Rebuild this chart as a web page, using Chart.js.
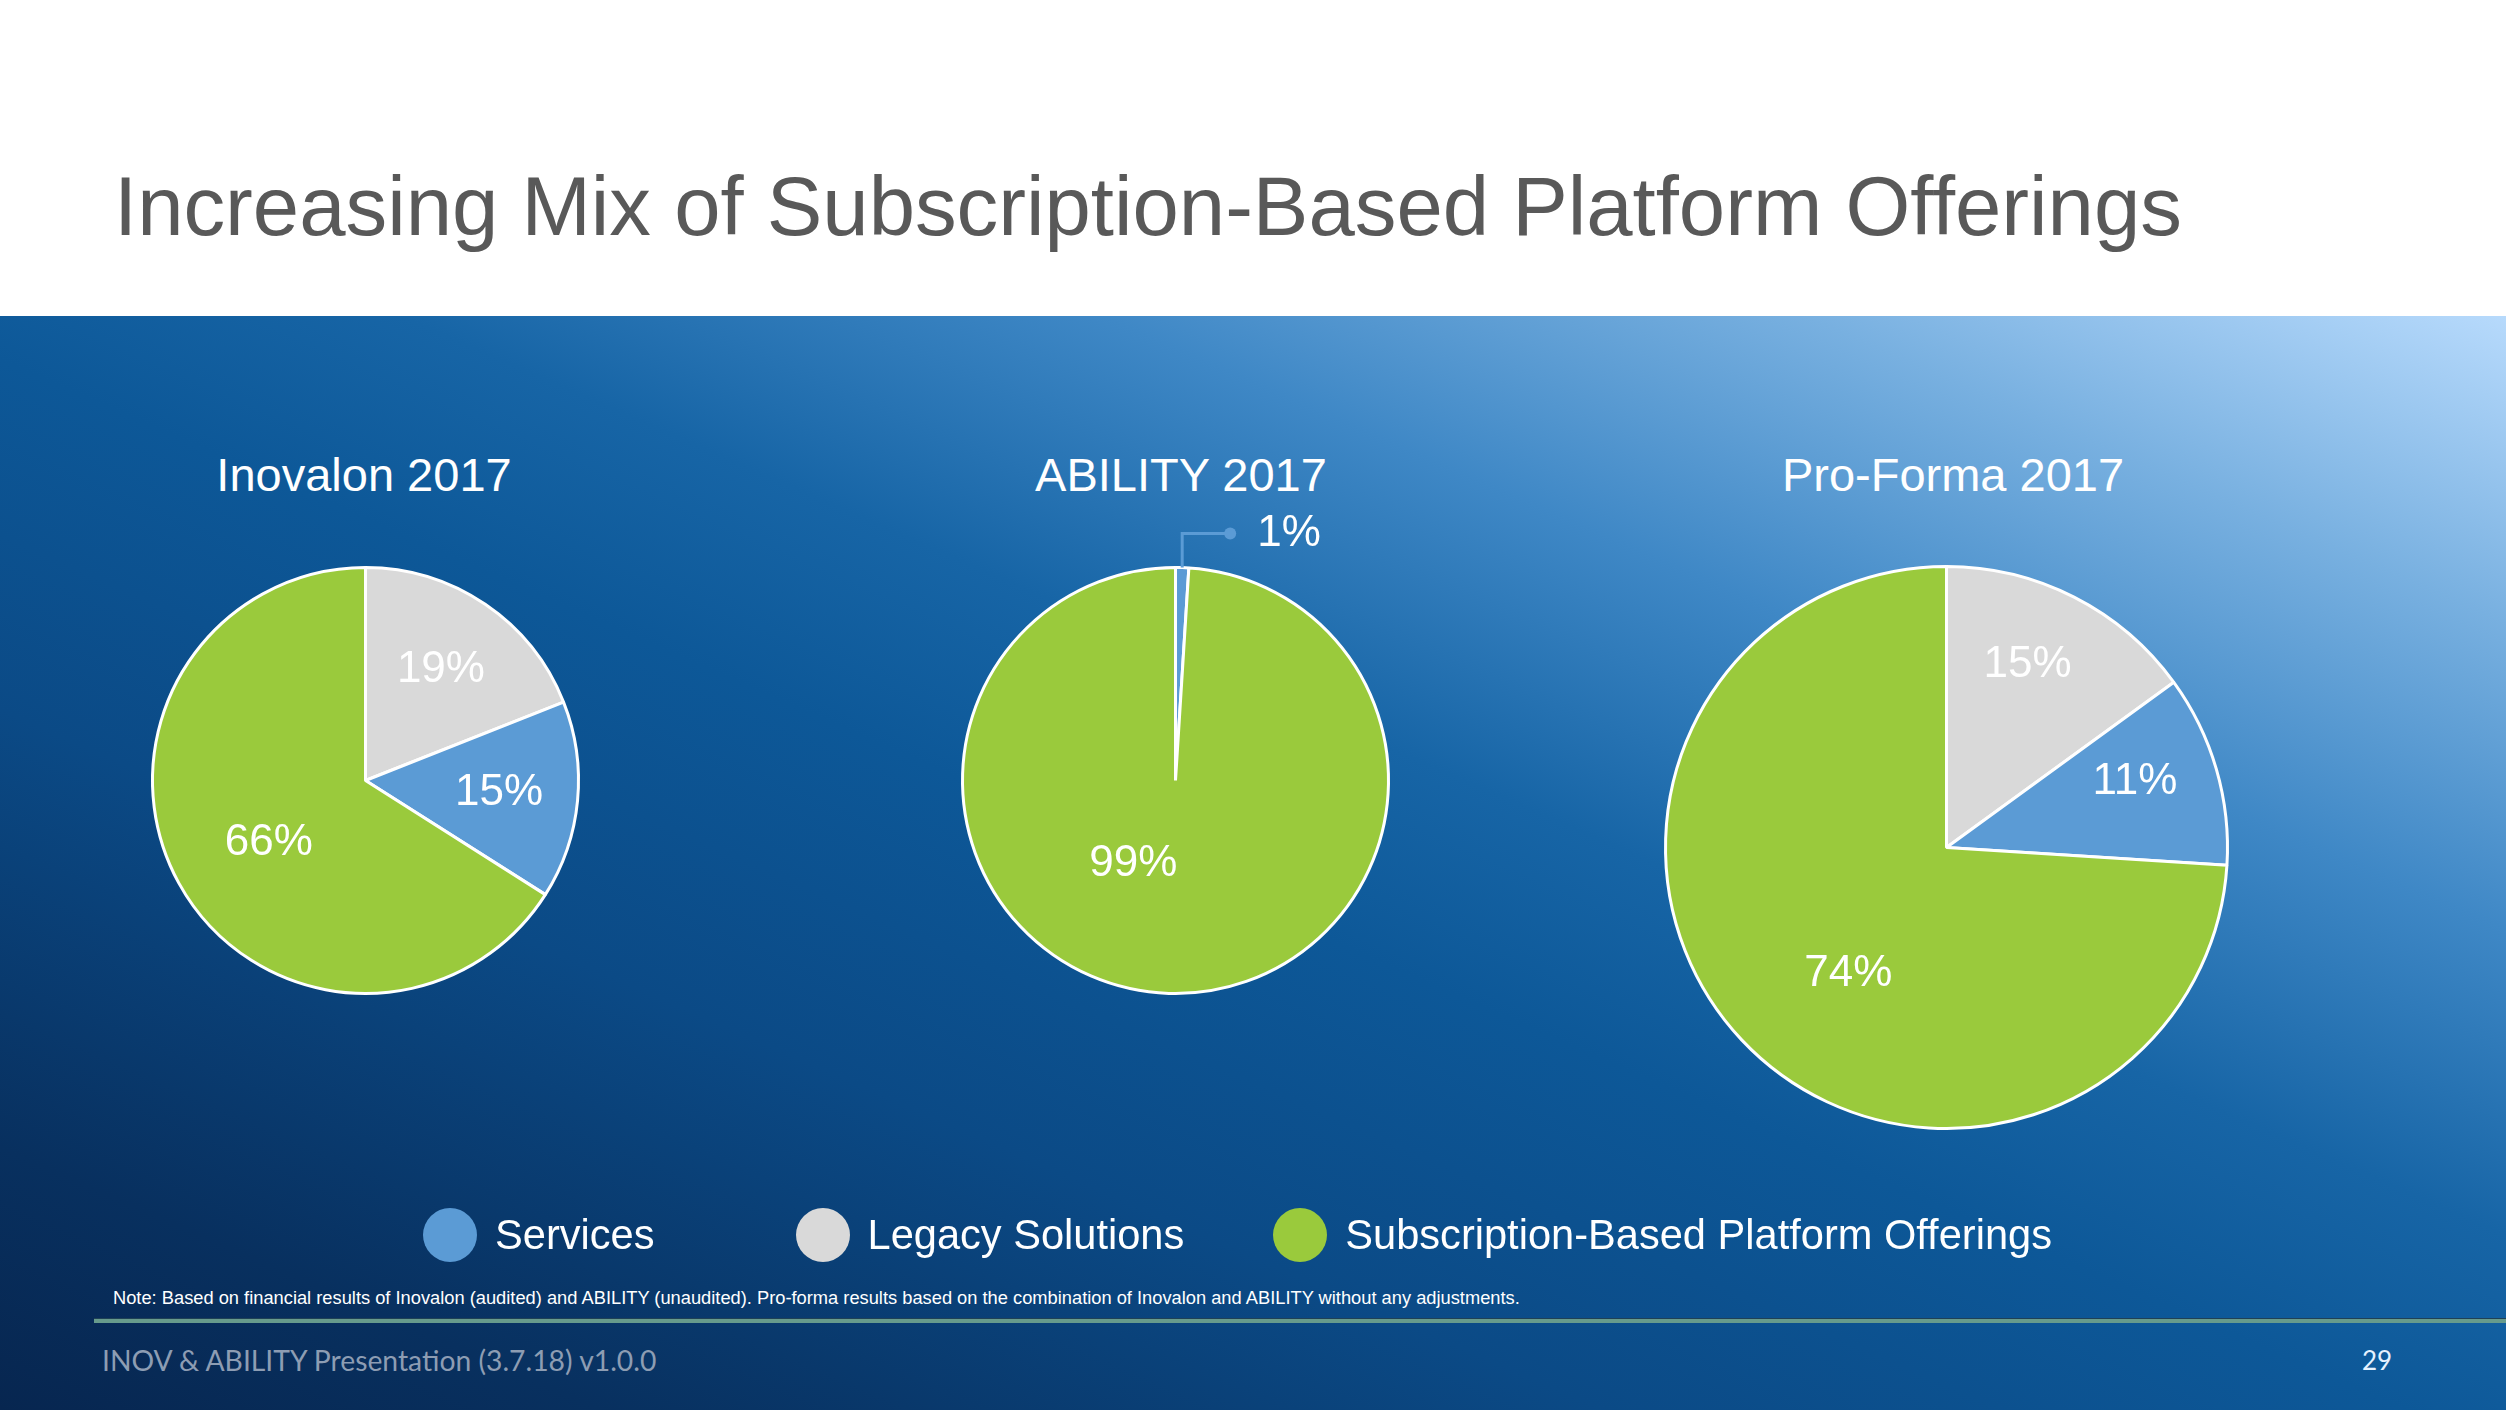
<!DOCTYPE html>
<html>
<head>
<meta charset="utf-8">
<script src="https://cdn.jsdelivr.net/npm/chart.js@4.4.0/dist/chart.umd.min.js"></script>
<style>
    body { margin: 0; width: 2506px; height: 1410px; overflow: hidden; background: #ffffff; font-family: "Liberation Sans", Arial, sans-serif; }
    .titulo { position: absolute; left: 114px; top: 165px; font-size: 83.3px; line-height: 84px; color: #595959; white-space: nowrap; }
    .fundo { position: absolute; left: 0; top: 316px; width: 2506px; height: 1094px;
        background: linear-gradient(to bottom left, #b7dafc 0%, #78b0e0 14%, #3f88c6 28%, #1765a6 42%, #0d5898 52%, #0b4a86 68%, #08305f 88%, #072650 100%); }
    canvas { position: absolute; }
    .subtitulo { position: absolute; width: 600px; top: 451px; font-size: 47px; line-height: 48px; color: #ffffff; text-align: center; white-space: nowrap; }
    .legenda { position: absolute; left: 423px; top: 1208px; display: flex; align-items: center; }
    .item { display: flex; align-items: center; }
    .item:nth-child(1) { margin-right: 141px; }
    .item:nth-child(2) { margin-right: 89px; }
    .bolinha { width: 54px; height: 54px; border-radius: 50%; margin-right: 18px; }
    .item span { font-size: 41.6px; line-height: 54px; color: #ffffff; white-space: nowrap; }
    .nota { position: absolute; left: 113px; top: 1289px; font-size: 18.3px; line-height: 18px; color: #ffffff; white-space: nowrap; }
    .linha { position: absolute; left: 94px; right: 0; top: 1318px; height: 4px; background: #679b8c; border-top: 1px solid #1f4156; }
    .rodape { position: absolute; left: 102px; top: 1344px; font-family: Lato, "Open Sans", sans-serif; font-size: 28.3px; line-height: 32px; color: #8d9db3; white-space: nowrap; }
    .pagina { position: absolute; left: 2362px; top: 1344px; font-family: Lato, "Open Sans", sans-serif; font-size: 26px; line-height: 32px; color: #e6f2ff; }
</style>
</head>
<body>
<div class="titulo">Increasing Mix of Subscription-Based Platform Offerings</div>
<div class="fundo"></div>

<div class="subtitulo" id="sub0" style="left:64px"></div>
<div class="subtitulo" id="sub1" style="left:881px"></div>
<div class="subtitulo" id="sub2" style="left:1653px"></div>

<canvas id="pizzaInovalon"></canvas>
<canvas id="pizzaAbility"></canvas>
<canvas id="pizzaProForma"></canvas>

<div class="legenda" id="legenda"></div>
<div class="nota">Note: Based on financial results of Inovalon (audited) and ABILITY (unaudited). Pro-forma results based on the combination of Inovalon and ABILITY without any adjustments.</div>
<div class="linha"></div>
<div class="rodape">INOV &amp; ABILITY Presentation (3.7.18) v1.0.0</div>
<div class="pagina">29</div>

<script>
var categorias = ['Legacy Solutions', 'Services', 'Subscription-Based Platform Offerings'];
var cores = ['#D9D9D9', '#5B9BD5', '#9ACA3C'];
var titulos = ['Inovalon 2017', 'ABILITY 2017', 'Pro-Forma 2017'];
var valoresInovalon = [19, 15, 66];
var valoresAbility = [0, 1, 99];
var valoresProForma = [15, 11, 74];
var ordemLegenda = [1, 0, 2];

// rotulos de porcentagem dentro das fatias (e chamada para fatia pequena)
var rotulos = {
    id: 'rotulos',
    afterDatasetsDraw: function (chart, args, opts) {
        var ctx = chart.ctx;
        var meta = chart.getDatasetMeta(0);
        var valores = chart.data.datasets[0].data;

        ctx.save();
        ctx.font = '44px "Liberation Sans", Arial, sans-serif';
        ctx.fillStyle = '#ffffff';
        ctx.textBaseline = 'middle';

        meta.data.forEach(function (arco, i) {
            var v = valores[i];
            if (!v) return;
            var meio = (arco.startAngle + arco.endAngle) / 2;

            if (v < 3) {
                var x0 = arco.x + Math.cos(meio) * arco.outerRadius;
                var y0 = arco.y + Math.sin(meio) * arco.outerRadius;
                var y1 = y0 - 34;
                var x1 = x0 + 48;
                ctx.strokeStyle = cores[i];
                ctx.lineWidth = 3;
                ctx.beginPath();
                ctx.moveTo(x0, y0);
                ctx.lineTo(x0, y1);
                ctx.lineTo(x1, y1);
                ctx.stroke();
                ctx.beginPath();
                ctx.arc(x1, y1, 6, 0, Math.PI * 2);
                ctx.fillStyle = cores[i];
                ctx.fill();
                ctx.fillStyle = '#ffffff';
                ctx.textAlign = 'left';
                ctx.fillText(v + '%', x1 + 27, y1);
                return;
            }

            var d = arco.outerRadius * opts.perto;
            var giro = opts.giroPequeno || 0;
            if (v > 50) {
                d = arco.outerRadius * opts.grande;
                giro = opts.giro;
            }
            meio = meio + giro * Math.PI / 180;
            ctx.textAlign = 'center';
            ctx.fillText(v + '%', arco.x + Math.cos(meio) * d, arco.y + Math.sin(meio) * d);
        });
        ctx.restore();
    }
};

function CriarPizza(id, valores, cx, cy, raio, posRotulos) {
    var pad = 100;
    var lado = raio * 2 + 3 + pad * 2;
    var canvas = document.getElementById(id);
    canvas.width = lado;
    canvas.height = lado;
    canvas.style.left = (cx - lado / 2) + 'px';
    canvas.style.top = (cy - lado / 2) + 'px';

    new Chart(canvas, {
        type: 'pie',
        data: {
            labels: categorias,
            datasets: [{
                data: valores,
                backgroundColor: cores,
                borderColor: '#ffffff',
                borderWidth: 3,
                hoverBorderWidth: 3,
                hoverOffset: 0
            }]
        },
        options: {
            responsive: false,
            animation: false,
            events: [],
            layout: { padding: pad },
            plugins: {
                legend: { display: false },
                tooltip: { enabled: false },
                rotulos: posRotulos
            }
        },
        plugins: [rotulos]
    });
}

CriarPizza('pizzaInovalon', valoresInovalon, 365, 780, 213, { perto: 0.63, grande: 0.54, giro: -4 });
CriarPizza('pizzaAbility', valoresAbility, 1175, 780, 213, { perto: 0.63, grande: 0.44, giro: 25 });
CriarPizza('pizzaProForma', valoresProForma, 1946, 847, 281, { perto: 0.71, grande: 0.57, giro: -9, giroPequeno: -3 });

var indice = 0;
while (indice < titulos.length) {
    document.getElementById('sub' + indice).textContent = titulos[indice];
    indice++;
}

var legenda = document.getElementById('legenda');
ordemLegenda.forEach(function (i) {
    var item = document.createElement('div');
    item.className = 'item';
    item.innerHTML = '<div class="bolinha" style="background:' + cores[i] + '"></div><span>' + categorias[i] + '</span>';
    legenda.appendChild(item);
});
</script>
</body>
</html>
